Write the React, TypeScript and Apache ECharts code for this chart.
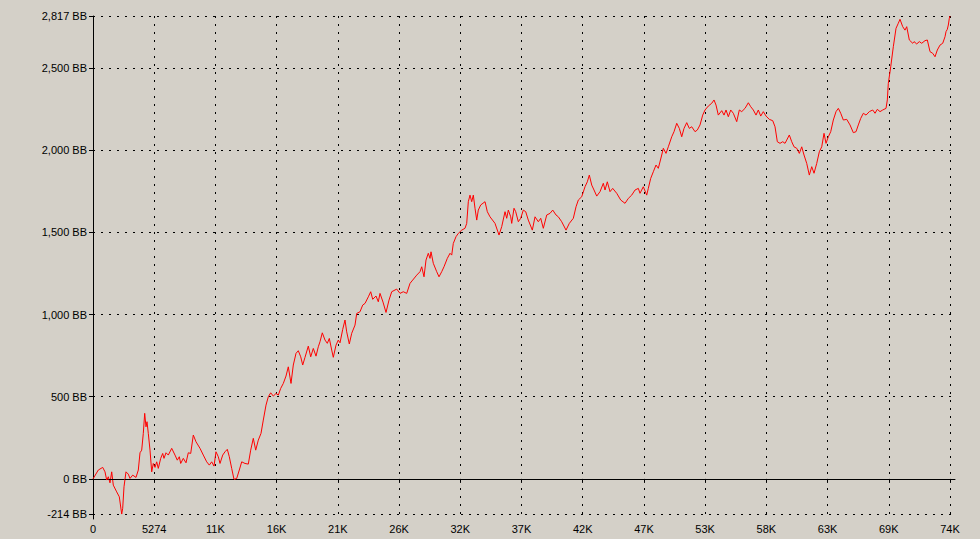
import React, { useEffect, useRef } from "react";
import * as echarts from "echarts";

// Hands played (x) and cumulative winnings in big blinds (y)
const hands = [
  0, 457, 836, 1034, 1180, 1318, 1465, 1611, 1749, 2042, 2266, 2473, 2559, 2671, 2843, 3041, 3188, 3421, 3705, 3903,
  4050, 4196, 4334, 4454, 4566, 4653, 4765, 4911, 5058, 5195, 5342, 5488, 5626, 5833, 6005, 6117, 6290, 6488, 6781, 7065,
  7263, 7436, 7556, 7780, 8013, 8211, 8418, 8642, 8874, 9219, 9503, 9796, 10020, 10227, 10425, 10597, 10796, 10942, 11175, 11373,
  11571, 11744, 11950, 12149, 12381, 12605, 12812, 13096, 13381, 13587, 13811, 14018, 14242, 14475, 14673, 14906, 15104, 15311, 15535, 15767,
  15966, 16172, 16396, 16629, 16827, 17060, 17258, 17490, 17689, 17896, 18068, 18266, 18550, 18757, 18981, 19214, 19412, 19558, 19756, 19989,
  20187, 20360, 20566, 20704, 20937, 21135, 21281, 21514, 21712, 21858, 22082, 22289, 22574, 22720, 23005, 23237, 23436, 23720, 23927, 24099,
  24383, 24581, 24728, 24986, 25245, 25503, 25736, 26166, 26451, 26735, 27028, 27313, 27545, 27890, 28174, 28321, 28519, 28691, 28889, 29036,
  29122, 29320, 29613, 29811, 30044, 30242, 30526, 30759, 30905, 31043, 31276, 31474, 31767, 32051, 32198, 32336, 32482, 32629, 32767, 32913,
  33060, 33197, 33404, 33775, 33973, 34205, 34636, 34981, 35213, 35498, 35644, 35782, 35989, 36075, 36273, 36420, 36644, 36850, 37074, 37281,
  37505, 37850, 38083, 38367, 38574, 38798, 39091, 39375, 39608, 39892, 40090, 40383, 40754, 41038, 41383, 41615, 41814, 42106, 42391, 42589,
  42761, 42968, 43166, 43399, 43683, 43968, 44114, 44312, 44545, 44777, 45122, 45467, 45837, 46121, 46414, 46699, 46983, 47129, 47413, 47706,
  47844, 48051, 48275, 48507, 48706, 48999, 49137, 49369, 49568, 49861, 50059, 50292, 50516, 50723, 50921, 51153, 51377, 51584, 51868, 52066,
  52299, 52531, 52730, 53014, 53307, 53505, 53678, 53876, 54169, 54367, 54539, 54738, 54944, 55168, 55461, 55685, 55892, 56176, 56461, 56667,
  56891, 57124, 57322, 57529, 57753, 57986, 58270, 58563, 58761, 58959, 59192, 59424, 59622, 59769, 59993, 60200, 60398, 60631, 60855, 61061,
  61260, 61492, 61716, 61923, 62121, 62354, 62578, 62785, 62983, 63155, 63354, 63560, 63784, 64017, 64215, 64422, 64646, 64939, 65223, 65507,
  65740, 65938, 66145, 66369, 66601, 66886, 67178, 67377, 67575, 67808, 68040, 68324, 68436, 68522, 68729, 68953, 69186, 69384, 69529, 69762,
  69960, 70107, 70331, 70624, 70736, 70969, 71193, 71400, 71684, 71882, 72115, 72347, 72546, 72744, 72977, 73209, 73407, 73494, 73606, 73692,
  73778, 73836,
];

const bb = [
  0, 54, 70, 43, -7, 13, -24, 43, -38, -79, -109, -214, -179, -48, 43, 29, 3, 23, 9, 54,
  159, 175, 277, 399, 317, 348, 277, 175, 43, 94, 70, 104, 64, 125, 155, 125, 159, 145, 186, 145,
  114, 135, 94, 125, 98, 159, 155, 267, 226, 186, 145, 104, 84, 104, 78, 165, 135, 94, 145, 165,
  180, 135, 64, -3, 3, 54, 104, 94, 90, 175, 247, 175, 236, 277, 358, 449, 500, 524, 504, 520,
  510, 551, 581, 626, 682, 581, 693, 764, 780, 743, 693, 740, 808, 743, 794, 747, 804, 835, 889, 845,
  825, 855, 784, 740, 814, 845, 828, 910, 967, 895, 821, 886, 936, 1007, 1017, 1058, 1068, 1108, 1139, 1093,
  1113, 1078, 1129, 1076, 1013, 1088, 1139, 1155, 1129, 1139, 1129, 1190, 1210, 1240, 1261, 1291, 1230, 1332, 1373, 1342,
  1382, 1312, 1261, 1230, 1261, 1291, 1342, 1373, 1362, 1433, 1474, 1494, 1514, 1525, 1555, 1687, 1727, 1687, 1727, 1647,
  1575, 1636, 1667, 1687, 1626, 1595, 1555, 1484, 1535, 1626, 1586, 1636, 1595, 1555, 1647, 1626, 1565, 1586, 1636, 1626,
  1575, 1514, 1595, 1565, 1586, 1525, 1606, 1616, 1636, 1606, 1595, 1565, 1514, 1555, 1586, 1656, 1697, 1717, 1778, 1808,
  1849, 1788, 1758, 1721, 1748, 1799, 1758, 1808, 1748, 1768, 1738, 1697, 1677, 1707, 1727, 1758, 1768, 1738, 1778, 1727,
  1768, 1829, 1869, 1910, 1890, 1971, 2012, 1981, 2021, 2082, 2113, 2164, 2133, 2082, 2133, 2168, 2133, 2143, 2113, 2123,
  2154, 2214, 2245, 2269, 2286, 2306, 2275, 2214, 2241, 2214, 2245, 2204, 2245, 2225, 2174, 2245, 2235, 2255, 2289, 2265,
  2245, 2214, 2245, 2208, 2235, 2208, 2188, 2180, 2143, 2052, 2042, 2052, 2042, 2062, 2093, 2052, 2021, 2012, 1981, 2021,
  1971, 1920, 1849, 1900, 1860, 1920, 1991, 2021, 2103, 2042, 2082, 2113, 2184, 2235, 2255, 2225, 2184, 2188, 2154, 2107,
  2113, 2154, 2194, 2225, 2214, 2235, 2245, 2225, 2249, 2235, 2245, 2255, 2306, 2407, 2508, 2630, 2742, 2773, 2797, 2752,
  2731, 2752, 2671, 2651, 2661, 2647, 2661, 2651, 2667, 2671, 2600, 2590, 2569, 2610, 2640, 2651, 2691, 2722, 2736, 2762,
  2803, 2817,
];

const xTickValues = [0, 5274, 10548, 15822, 21096, 26370, 31644, 36918, 42192, 47466, 52740, 58014, 63288, 68562, 73836];
const xTickLabels = ["0", "5274", "11K", "16K", "21K", "26K", "32K", "37K", "42K", "47K", "53K", "58K", "63K", "69K", "74K"];

const yTickValues = [-214, 0, 500, 1000, 1500, 2000, 2500, 2817];
const yTickLabels = ["-214 BB", "0 BB", "500 BB", "1,000 BB", "1,500 BB", "2,000 BB", "2,500 BB", "2,817 BB"];

const BG = "#d4d0c8";

export default function App() {
  const ref = useRef<HTMLDivElement>(null);

  useEffect(() => {
    if (!ref.current) return;
    const chart = echarts.init(ref.current, undefined, { renderer: "svg" });
    const data = hands.map((h, i) => [h, bb[i]]);
    const labelFont = { color: "#000", fontFamily: "Liberation Sans, Arial, sans-serif", fontSize: 11 };
    const ySplitColors = yTickValues.map((v) => (v === 0 ? "rgba(0,0,0,0)" : "#000"));

    chart.setOption({
      animation: false,
      backgroundColor: BG,
      grid: { left: 93, right: 25, top: 16, bottom: 20, containLabel: false },
      xAxis: {
        type: "value",
        min: 0,
        max: 74267,
        axisLine: { show: true, lineStyle: { color: "#000", width: 1 } },
        axisTick: { show: true, customValues: xTickValues, length: 4, lineStyle: { color: "#000" } },
        axisLabel: {
          ...labelFont,
          customValues: xTickValues,
          margin: 4,
          formatter: (v: number) => {
            const i = xTickValues.indexOf(v);
            return i >= 0 ? xTickLabels[i] : "";
          },
        },
        splitLine: { show: true, lineStyle: { color: "#000", width: 1, type: [2, 6] } },
      },
      yAxis: {
        type: "value",
        min: -244,
        max: 2817,
        axisLine: { show: true, lineStyle: { color: "#000", width: 1 } },
        axisTick: { show: true, customValues: yTickValues, length: 4, lineStyle: { color: "#000" } },
        axisLabel: {
          ...labelFont,
          customValues: yTickValues,
          margin: 6,
          formatter: (v: number) => {
            const i = yTickValues.indexOf(v);
            return i >= 0 ? yTickLabels[i] : "";
          },
        },
        splitLine: { show: true, lineStyle: { color: ySplitColors, width: 1, type: [2, 6] } },
      },
      series: [
        {
          type: "line",
          data,
          symbol: "none",
          showSymbol: false,
          lineStyle: { color: "#ff0000", width: 1 },
          markLine: {
            silent: true,
            symbol: "none",
            label: { show: false },
            lineStyle: { color: "#000", width: 1, type: [5, 3] },
            data: [{ yAxis: 0 }],
          },
          z: 3,
        },
      ],
    });
    return () => chart.dispose();
  }, []);

  return (
    <div
      ref={ref}
      style={{ position: "fixed", left: 0, top: 0, width: 980, height: 539, background: BG }}
    />
  );
}
